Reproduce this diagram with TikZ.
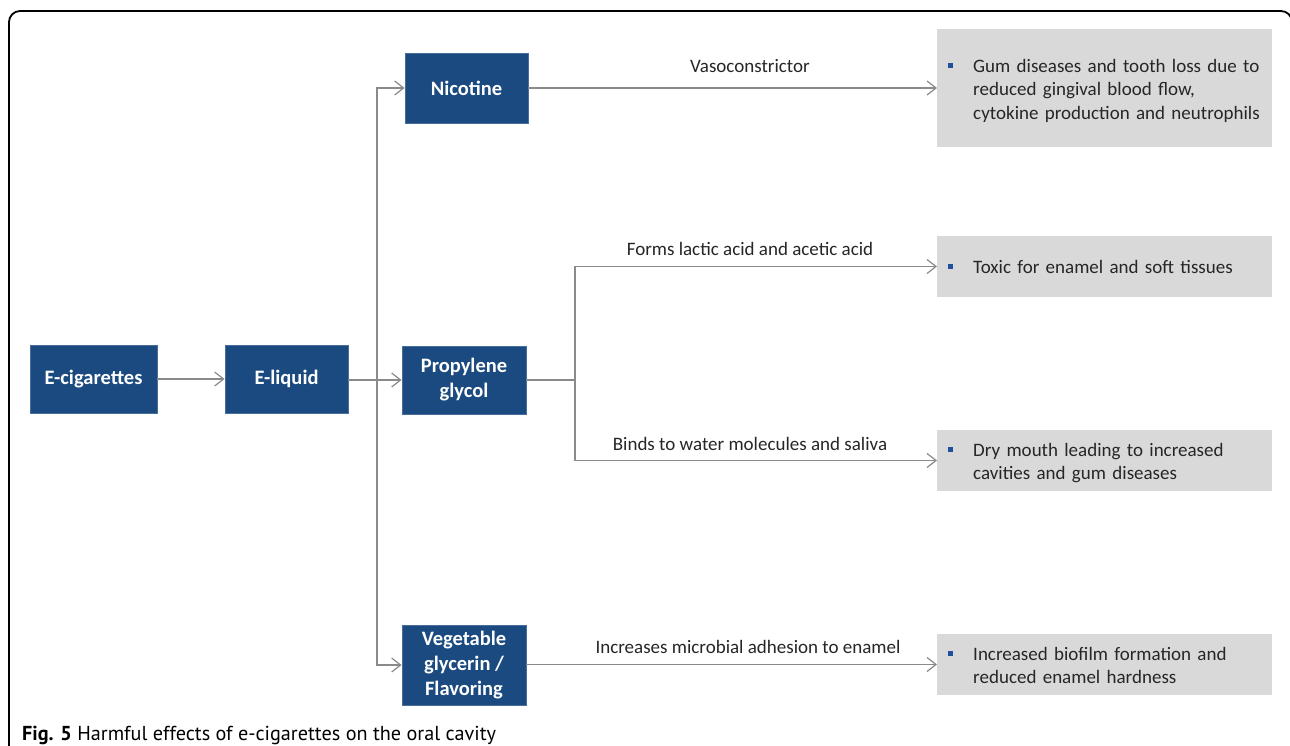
\documentclass[tikz,border=0pt]{standalone}
\usepackage{fontspec}
\setmainfont{Carlito}
\newfontfamily\capfont{PT Sans}
\usetikzlibrary{arrows.meta}
\definecolor{boxblue}{HTML}{1B4A80}
\definecolor{bulblue}{HTML}{1F5199}
\definecolor{boxgray}{HTML}{D9D9D9}
\definecolor{linegray}{HTML}{8A8A8A}
\newcommand{\bulsq}{\textcolor{bulblue}{\rule[4pt]{5pt}{5pt}}\hspace{20pt}}
\newcommand{\bulsqm}{\rule{0pt}{22.5pt}\bulsq}
\begin{document}
\begin{tikzpicture}[x=1pt,y=-1pt,
  bluebox/.style={fill=boxblue,draw=boxblue!80!white,line width=0.8pt,text=white,
    font=\fontsize{20.5pt}{25pt}\selectfont\bfseries,align=center,inner sep=0pt},
  graybox/.style={fill=boxgray,minimum width=335pt,text width=313pt,inner xsep=11pt,
    inner ysep=0pt,align=left,anchor=west,font=\fontsize{19pt}{23.5pt}\selectfont,text=black!85},
  lbl/.style={anchor=base,font=\fontsize{19pt}{23pt}\selectfont,text=black!85,inner sep=0pt},
  conn/.style={draw=linegray,line width=1.3pt},
  arr/.style={conn,-{Straight Barb[length=9pt,width=14pt,line width=1.2pt]}},
]
\useasboundingbox (0,0) rectangle (1290,746);
\fill[white] (0,0) rectangle (1290,746);
% frame
\draw[line width=1.8pt,rounded corners=11pt] (9,760) -- (9,11) -- (1292,11) -- (1292,60);

% blue nodes
\node[bluebox,minimum width=127pt,minimum height=68pt] (ecig) at (93.5,379) {E-cigarettes};
\node[bluebox,minimum width=123pt,minimum height=68pt] (eliq) at (286.5,379) {E-liquid};
\node[bluebox,minimum width=123pt,minimum height=70pt] (nic) at (466.5,88) {Nicotine};
\node[bluebox,minimum width=124pt,minimum height=68pt] (pg) at (464,380) {Propylene\\glycol};
\node[bluebox,minimum width=124pt,minimum height=80pt] (vg) at (464,665) {Vegetable\\glycerin /\\Flavoring};

% gray result boxes
\node[graybox,minimum height=118pt] (r1) at (937,88)
  {\bulsqm\begin{tabular}[t]{@{}l@{}}Gum diseases and tooth loss due to\\reduced gingival blood flow,\\cytokine production and neutrophils\end{tabular}};
\node[graybox,minimum height=61pt] (r2) at (937,266.5)
  {\bulsq Toxic for enamel and soft tissues};
\node[graybox,minimum height=61pt] (r3) at (937,460.5)
  {\bulsqm\begin{tabular}[t]{@{}l@{}}Dry mouth leading to increased\\cavities and gum diseases\end{tabular}};
\node[graybox,minimum height=61pt] (r4) at (937,664.5)
  {\bulsqm\begin{tabular}[t]{@{}l@{}}Increased biofilm formation and\\reduced enamel hardness\end{tabular}};

% junctions
\coordinate (trunk) at (377,380);
\coordinate (split) at (575,380);

% connectors
\draw[arr] (ecig.east) -- (eliq.west);
\draw[arr] (eliq.east |- pg.west) -- (pg.west);
\draw[arr] (trunk) |- (nic.west);
\draw[arr] (trunk) |- (vg.west);
\draw[arr] (nic.east) -- (nic.east -| r1.west);
\draw[conn] (pg.east) -- (split);
\draw[arr] (split) |- (r2.west);
\draw[arr] (split) |- (r3.west);
\draw[arr] (vg.east |- r4.west) -- (r4.west);

% connector labels
\node[lbl] (l1) at (750,73) {Vasoconstrictor};
\node[lbl] (l2) at (750,255) {Forms lactic acid and acetic acid};
\node[lbl] (l3) at (750,450) {Binds to water molecules and saliva};
\node[lbl] (l4) at (748,653) {Increases microbial adhesion to enamel};

% caption
\node[anchor=base west,inner sep=0pt,font=\capfont\fontsize{20.2pt}{23pt}\selectfont] (cap) at (22,740)
  {\textbf{Fig. 5} Harmful effects of e-cigarettes on the oral cavity};
\end{tikzpicture}
\end{document}
